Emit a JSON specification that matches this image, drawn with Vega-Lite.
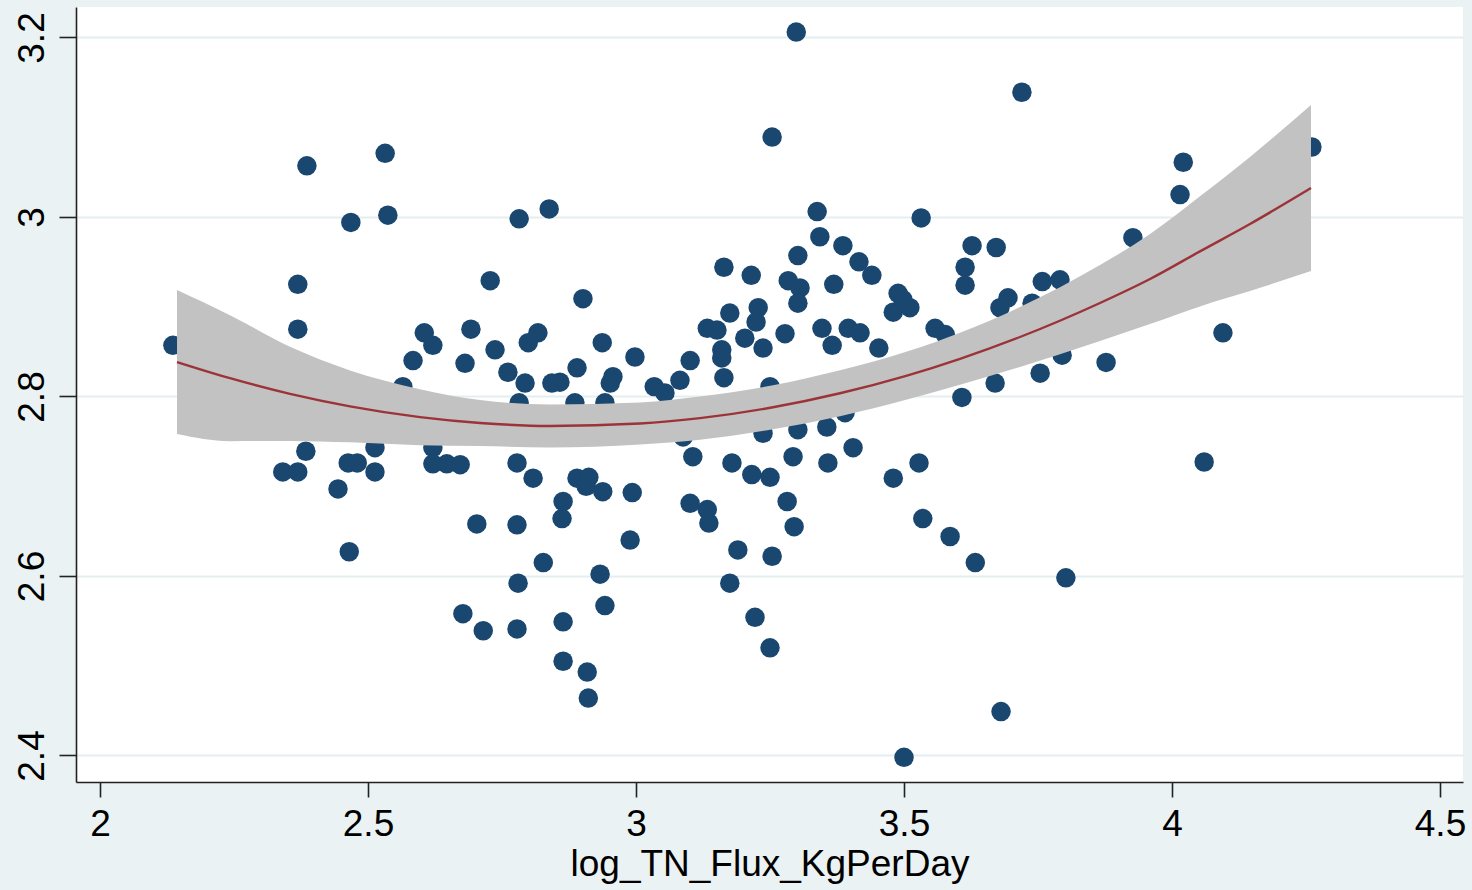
{
  "$schema": "https://vega.github.io/schema/vega-lite/v6.json",
  "width": 1387,
  "height": 775,
  "autosize": {"type": "none"},
  "padding": {"left": 76, "top": 7, "right": 9, "bottom": 108},
  "background": "#EAF2F3",
  "config": {
    "view": {"stroke": null, "fill": "#FFFFFF"},
    "font": "Liberation Sans",
    "axis": {
      "labelFont": "Liberation Sans",
      "titleFont": "Liberation Sans",
      "labelFontSize": 37,
      "titleFontSize": 37,
      "labelColor": "#000000",
      "titleColor": "#000000",
      "titleFontWeight": "normal",
      "domainColor": "#222222",
      "domainWidth": 1.6,
      "tickColor": "#222222",
      "tickWidth": 1.6,
      "labelFlush": false,
      "labelOverlap": false
    }
  },
  "datasets": {
    "pts": [
      {"x": 2.136, "y": 2.857}, {"x": 2.386, "y": 3.057}, {"x": 2.532, "y": 3.071}, {"x": 2.468, "y": 2.994},
      {"x": 2.537, "y": 3.002}, {"x": 2.369, "y": 2.925}, {"x": 2.369, "y": 2.875}, {"x": 2.605, "y": 2.871},
      {"x": 2.621, "y": 2.857}, {"x": 2.584, "y": 2.840}, {"x": 2.692, "y": 2.875}, {"x": 2.681, "y": 2.837},
      {"x": 2.728, "y": 2.929}, {"x": 2.737, "y": 2.852}, {"x": 2.565, "y": 2.811}, {"x": 2.384, "y": 2.739},
      {"x": 2.341, "y": 2.716}, {"x": 2.369, "y": 2.716}, {"x": 2.444, "y": 2.697}, {"x": 2.463, "y": 2.726},
      {"x": 2.480, "y": 2.726}, {"x": 2.513, "y": 2.743}, {"x": 2.513, "y": 2.716}, {"x": 2.621, "y": 2.743},
      {"x": 2.621, "y": 2.725}, {"x": 2.647, "y": 2.725}, {"x": 2.672, "y": 2.724}, {"x": 2.465, "y": 2.627},
      {"x": 2.703, "y": 2.658}, {"x": 2.677, "y": 2.558}, {"x": 2.715, "y": 2.539}, {"x": 3.299, "y": 3.206},
      {"x": 3.254, "y": 3.089}, {"x": 2.782, "y": 2.998}, {"x": 2.838, "y": 3.009}, {"x": 2.901, "y": 2.909},
      {"x": 3.338, "y": 3.006}, {"x": 3.532, "y": 2.999}, {"x": 3.343, "y": 2.978}, {"x": 3.302, "y": 2.957},
      {"x": 3.386, "y": 2.968}, {"x": 3.416, "y": 2.950}, {"x": 3.440, "y": 2.935}, {"x": 3.164, "y": 2.944},
      {"x": 3.215, "y": 2.935}, {"x": 3.284, "y": 2.929}, {"x": 3.306, "y": 2.921}, {"x": 3.302, "y": 2.904},
      {"x": 3.369, "y": 2.925}, {"x": 3.489, "y": 2.915}, {"x": 3.480, "y": 2.894}, {"x": 3.511, "y": 2.899},
      {"x": 3.498, "y": 2.908}, {"x": 3.627, "y": 2.968}, {"x": 3.614, "y": 2.944}, {"x": 3.614, "y": 2.924},
      {"x": 3.558, "y": 2.876}, {"x": 3.577, "y": 2.869}, {"x": 3.453, "y": 2.854}, {"x": 3.347, "y": 2.876},
      {"x": 3.366, "y": 2.857}, {"x": 3.396, "y": 2.876}, {"x": 3.418, "y": 2.871}, {"x": 3.278, "y": 2.870},
      {"x": 3.237, "y": 2.854}, {"x": 3.203, "y": 2.865}, {"x": 3.228, "y": 2.899}, {"x": 3.224, "y": 2.883},
      {"x": 3.175, "y": 2.893}, {"x": 3.133, "y": 2.876}, {"x": 3.151, "y": 2.874}, {"x": 3.160, "y": 2.852},
      {"x": 3.160, "y": 2.843}, {"x": 3.164, "y": 2.821}, {"x": 3.101, "y": 2.840}, {"x": 3.082, "y": 2.818},
      {"x": 3.034, "y": 2.811}, {"x": 3.054, "y": 2.804}, {"x": 2.998, "y": 2.844}, {"x": 2.957, "y": 2.822},
      {"x": 2.952, "y": 2.815}, {"x": 2.937, "y": 2.860}, {"x": 2.890, "y": 2.832}, {"x": 2.858, "y": 2.816},
      {"x": 2.843, "y": 2.815}, {"x": 2.817, "y": 2.871}, {"x": 2.799, "y": 2.860}, {"x": 2.761, "y": 2.827},
      {"x": 2.793, "y": 2.815}, {"x": 3.608, "y": 2.799}, {"x": 2.782, "y": 2.793}, {"x": 2.886, "y": 2.793},
      {"x": 2.942, "y": 2.793}, {"x": 3.237, "y": 2.759}, {"x": 3.302, "y": 2.763}, {"x": 3.356, "y": 2.766},
      {"x": 3.405, "y": 2.743}, {"x": 2.778, "y": 2.726}, {"x": 2.808, "y": 2.709}, {"x": 2.890, "y": 2.709},
      {"x": 2.912, "y": 2.710}, {"x": 2.907, "y": 2.700}, {"x": 2.938, "y": 2.694}, {"x": 2.993, "y": 2.693},
      {"x": 2.864, "y": 2.683}, {"x": 2.862, "y": 2.664}, {"x": 2.778, "y": 2.657}, {"x": 2.989, "y": 2.640},
      {"x": 2.827, "y": 2.615}, {"x": 2.780, "y": 2.592}, {"x": 2.933, "y": 2.602}, {"x": 2.942, "y": 2.567},
      {"x": 2.778, "y": 2.541}, {"x": 2.864, "y": 2.549}, {"x": 2.864, "y": 2.505}, {"x": 2.909, "y": 2.493},
      {"x": 2.911, "y": 2.464}, {"x": 3.106, "y": 2.733}, {"x": 3.179, "y": 2.726}, {"x": 3.216, "y": 2.713},
      {"x": 3.250, "y": 2.710}, {"x": 3.293, "y": 2.733}, {"x": 3.358, "y": 2.726}, {"x": 3.480, "y": 2.709},
      {"x": 3.528, "y": 2.726}, {"x": 3.101, "y": 2.681}, {"x": 3.133, "y": 2.674}, {"x": 3.136, "y": 2.659},
      {"x": 3.282, "y": 2.683}, {"x": 3.295, "y": 2.655}, {"x": 3.535, "y": 2.664}, {"x": 3.586, "y": 2.644},
      {"x": 3.633, "y": 2.615}, {"x": 3.190, "y": 2.629}, {"x": 3.254, "y": 2.622}, {"x": 3.175, "y": 2.592},
      {"x": 3.222, "y": 2.554}, {"x": 3.250, "y": 2.520}, {"x": 3.500, "y": 2.398}, {"x": 3.720, "y": 3.139},
      {"x": 4.021, "y": 3.061}, {"x": 4.015, "y": 3.025}, {"x": 4.261, "y": 3.078}, {"x": 3.927, "y": 2.977},
      {"x": 3.672, "y": 2.966}, {"x": 3.758, "y": 2.928}, {"x": 3.791, "y": 2.930}, {"x": 3.694, "y": 2.910},
      {"x": 3.679, "y": 2.899}, {"x": 3.739, "y": 2.904}, {"x": 4.095, "y": 2.871}, {"x": 3.877, "y": 2.838},
      {"x": 3.795, "y": 2.846}, {"x": 3.754, "y": 2.826}, {"x": 3.670, "y": 2.815}, {"x": 4.060, "y": 2.727},
      {"x": 3.802, "y": 2.598}, {"x": 3.681, "y": 2.449}, {"x": 3.250, "y": 2.811}, {"x": 3.390, "y": 2.782},
      {"x": 3.088, "y": 2.755}
    ],
    "fit": [
      {"x": 2.1437, "fit": 2.8384, "lo": 2.7582, "hi": 2.9186},
      {"x": 2.2425, "fit": 2.8204, "lo": 2.7502, "hi": 2.8906},
      {"x": 2.3545, "fit": 2.8029, "lo": 2.7505, "hi": 2.8553},
      {"x": 2.4664, "fit": 2.7890, "lo": 2.7489, "hi": 2.8291},
      {"x": 2.5970, "fit": 2.7770, "lo": 2.7458, "hi": 2.8082},
      {"x": 2.7090, "fit": 2.7705, "lo": 2.7449, "hi": 2.7961},
      {"x": 2.8396, "fit": 2.7672, "lo": 2.7432, "hi": 2.7912},
      {"x": 3.0075, "fit": 2.7699, "lo": 2.7465, "hi": 2.7933},
      {"x": 3.1194, "fit": 2.7759, "lo": 2.7519, "hi": 2.7999},
      {"x": 3.2556, "fit": 2.7880, "lo": 2.7635, "hi": 2.8125},
      {"x": 3.3806, "fit": 2.8036, "lo": 2.7780, "hi": 2.8292},
      {"x": 3.5056, "fit": 2.8233, "lo": 2.7966, "hi": 2.8500},
      {"x": 3.6045, "fit": 2.8420, "lo": 2.8130, "hi": 2.8710},
      {"x": 3.7164, "fit": 2.8663, "lo": 2.8329, "hi": 2.8997},
      {"x": 3.8657, "fit": 2.9042, "lo": 2.8619, "hi": 2.9465},
      {"x": 3.9590, "fit": 2.9309, "lo": 2.8808, "hi": 2.9810},
      {"x": 4.0522, "fit": 2.9617, "lo": 2.9004, "hi": 3.0230},
      {"x": 4.1455, "fit": 2.9922, "lo": 2.9175, "hi": 3.0669},
      {"x": 4.2593, "fit": 3.0323, "lo": 2.9398, "hi": 3.1248}
    ]
  },
  "encoding": {
    "x": {
      "field": "x",
      "type": "quantitative",
      "title": "log_TN_Flux_KgPerDay",
      "scale": {"domain": [1.95522, 4.54291], "nice": false, "zero": false},
      "axis": {
        "values": [2, 2.5, 3, 3.5, 4, 4.5],
        "format": "~g",
        "grid": false,
        "tickSize": 15,
        "labelPadding": 38,
        "labelBaseline": "alphabetic",
        "titleBaseline": "alphabetic",
        "titleY": 93
      }
    }
  },
  "layer": [
    {
      "data": {"name": "pts"},
      "mark": {"type": "point", "filled": true, "shape": "circle", "size": 380, "color": "#1A476F", "opacity": 1},
      "encoding": {
        "y": {
          "field": "y",
          "type": "quantitative",
          "title": null,
          "scale": {"domain": [2.37047, 3.23398], "nice": false, "zero": false},
          "axis": {
            "values": [2.4, 2.6, 2.8, 3, 3.2],
            "format": "~g",
            "grid": true,
            "gridColor": "#E4EDEF",
            "gridWidth": 2.2,
            "tickSize": 17,
            "labelAngle": 270,
            "labelAlign": "center",
            "labelBaseline": "alphabetic",
            "labelPadding": 16
          }
        }
      }
    },
    {
      "data": {"name": "fit"},
      "mark": {"type": "area", "color": "#C2C2C2", "opacity": 1, "interpolate": "monotone"},
      "encoding": {
        "y": {"field": "lo", "type": "quantitative", "title": null},
        "y2": {"field": "hi"}
      }
    },
    {
      "data": {"name": "fit"},
      "mark": {"type": "line", "color": "#9B3338", "strokeWidth": 2.4, "interpolate": "monotone"},
      "encoding": {
        "y": {"field": "fit", "type": "quantitative", "title": null}
      }
    }
  ]
}
